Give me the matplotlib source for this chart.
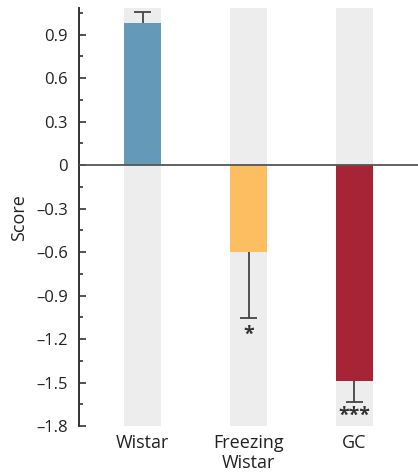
import numpy as np
import matplotlib.pyplot as plt
from matplotlib.ticker import MultipleLocator, FuncFormatter

groups = ["Wistar", "Freezing\nWistar", "GC"]
scores = [0.98, -0.60, -1.49]
errors = [0.075, 0.455, 0.145]
stars = ["", "*", "***"]
star_y = [None, -1.17, -1.73]
colors = ["#6499b8", "#fdbe62", "#a72336"]

plt.rcParams['font.family'] = ['Open Sans', 'DejaVu Sans']

fig = plt.figure(figsize=(4.18, 4.75), dpi=100)
ax = fig.add_axes([0.189, 0.103, 0.811, 0.880])

x = np.arange(len(groups))
ymin, ymax = -1.8, 1.083
w = 0.35

# grey background columns
ax.bar(x, ymax - ymin, bottom=ymin, width=w, color="#ededed", zorder=0)
ax.bar(x, scores, width=w, color=colors, zorder=2)

# one-sided error bars pointing away from zero
for xi, s, e in zip(x, scores, errors):
    tip = s + e if s > 0 else s - e
    ax.vlines(xi, s, tip, color="#444444", lw=1.3, zorder=3)
    ax.hlines(tip, xi - 0.08, xi + 0.08, color="#444444", lw=1.3, zorder=3)

for xi, st, sy in zip(x, stars, star_y):
    if st:
        ax.text(xi, sy, st, ha="center", va="center", fontsize=14,
                fontweight="bold", color="#333333")

ax.axhline(0, color="#555555", lw=1.3, zorder=4)

ax.set_xlim(-0.6, 2.6)
ax.set_ylim(ymin, ymax)
ax.yaxis.set_major_locator(MultipleLocator(0.3))
ax.yaxis.set_minor_locator(MultipleLocator(0.15))
ax.yaxis.set_major_formatter(FuncFormatter(
    lambda v, p: "0" if abs(v) < 1e-9 else ("\u2013%.1f" % -v if v < 0 else "%.1f" % v)))
ax.set_ylim(ymin, ymax)

ax.set_xticks(x)
ax.set_xticklabels(groups, fontsize=13, color="#222222", linespacing=1.1)
ax.tick_params(axis="x", length=0, pad=6)
ax.tick_params(axis="y", which="major", direction="in", length=5, width=1.2,
               labelsize=12, labelcolor="#222222", pad=8, color="#333333")
ax.tick_params(axis="y", which="minor", direction="in", length=3, width=1.2,
               color="#333333")

for s in ["top", "right", "bottom"]:
    ax.spines[s].set_visible(False)
ax.spines["left"].set_linewidth(1.4)
ax.spines["left"].set_color("#333333")

ax.set_ylabel("Score", fontsize=13, color="#222222", labelpad=6)

fig.savefig("out.png", dpi=100)
